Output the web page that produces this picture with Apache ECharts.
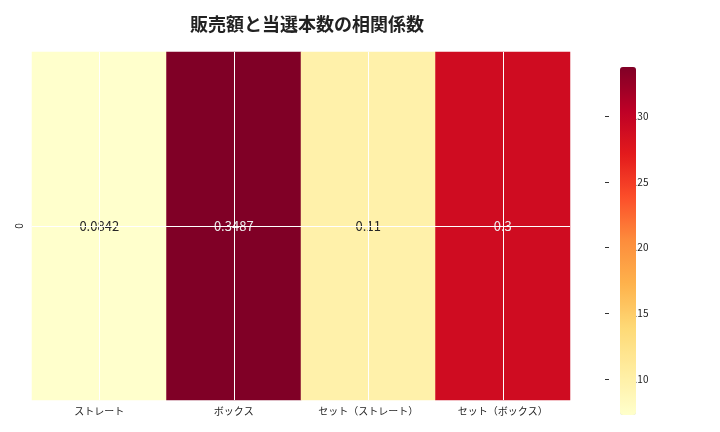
<!DOCTYPE html>
<html><head><meta charset="utf-8">
<script src="https://cdn.jsdelivr.net/npm/echarts@6/dist/echarts.min.js"></script>
<style>body{margin:0}#c{width:720px;height:432px}</style>
</head><body><div id="c"></div>
<script>
// 販売額と当選本数の相関係数
var categories = ['ストレート', 'ボックス', 'セット（ストレート）', 'セット（ボックス）'];
var rowLabels = ['0'];
var corrValues = [0.0842, 0.3487, 0.11, 0.30];
var shownLabels = ['0.08', '0.35', '0.11', '0.30'];
var barTicks = [0.10, 0.15, 0.20, 0.25, 0.30];

var font = '"Noto Sans CJK JP", "Noto Sans", sans-serif';
var cells = [];
for (var i = 0; i < corrValues.length; i++) cells.push([i, 0, corrValues[i]]);

var chart = echarts.init(document.getElementById('c'));
chart.setOption({
  backgroundColor: '#fff',
  animation: false,
  title: {
    text: '販売額と当選本数の相関係数',
    left: 302, top: 10, textAlign: 'center',
    textStyle: {fontFamily: font, fontSize: 18, fontWeight: 'bold', color: '#222'}
  },
  grid: [
    {left: 32, top: 52, width: 538, height: 348},
    {left: 605, top: 52, width: 16, height: 348}
  ],
  xAxis: [
    {type: 'category', data: categories, gridIndex: 0,
     axisLine: {show: false}, axisTick: {alignWithLabel: true, length: 4, lineStyle: {color: '#333'}},
     axisLabel: {fontFamily: font, fontSize: 10, color: '#222', margin: 6},
     splitLine: {show: false}},
    {type: 'value', gridIndex: 0, min: 0, max: 8, interval: 1, show: true, z: 10,
     axisLine: {show: false}, axisTick: {show: false}, axisLabel: {show: false},
     splitLine: {show: true, lineStyle: {color: ['rgba(0,0,0,0)', '#ffffff'], width: 1}}},
    {type: 'value', gridIndex: 1, show: false, min: 0, max: 1}
  ],
  yAxis: [
    {type: 'category', data: rowLabels, gridIndex: 0,
     axisLine: {show: false}, axisTick: {alignWithLabel: true, length: 4, lineStyle: {color: '#333'}},
     axisLabel: {fontFamily: font, fontSize: 10, color: '#222', rotate: 90, margin: 8},
     splitLine: {show: false}},
    {type: 'value', gridIndex: 0, min: 0, max: 2, interval: 1, z: 10,
     axisLine: {show: false}, axisTick: {show: false}, axisLabel: {show: false},
     splitLine: {show: true, lineStyle: {color: ['rgba(0,0,0,0)', '#ffffff'], width: 1}}},
    {type: 'value', gridIndex: 1, position: 'right', min: 0.0842, max: 0.3487,
     axisLine: {show: false},
     axisTick: {show: true, customValues: barTicks, length: 4, lineStyle: {color: '#333'}},
     axisLabel: {show: true, customValues: barTicks, fontFamily: font, fontSize: 10, color: '#222',
       formatter: function (v) { return v.toFixed(2); }},
     splitLine: {show: false}}
  ],
  visualMap: {
    type: 'continuous', min: 0.0842, max: 0.3487, seriesIndex: 0,
    left: 605, top: 52, itemWidth: 16, itemHeight: 348, text: ['', ''],
    calculable: false, showLabel: false,
    inRange: {color: ['#ffffcc', '#ffeda0', '#fed976', '#feb24c', '#fd8d3c', '#fc4e2a', '#e31a1c', '#bd0026', '#800026']}
  },
  series: [{
    type: 'heatmap', xAxisIndex: 0, yAxisIndex: 0, data: cells,
    label: {show: true, fontFamily: font, fontSize: 13,
      formatter: function (p) { return shownLabels[p.data[0]]; },
      color: '#262626'},
    itemStyle: {borderWidth: 0}
  }]
});
// light text on dark cells
chart.setOption({series: [{label: {color: function () {}}}]}, false);
var opt = chart.getOption();
opt.series[0].data = cells.map(function (c) {
  return {value: c, label: {color: c[2] > 0.25 ? '#eeeeee' : '#262626'}};
});
chart.setOption({series: [{data: opt.series[0].data}]});
</script></body></html>
